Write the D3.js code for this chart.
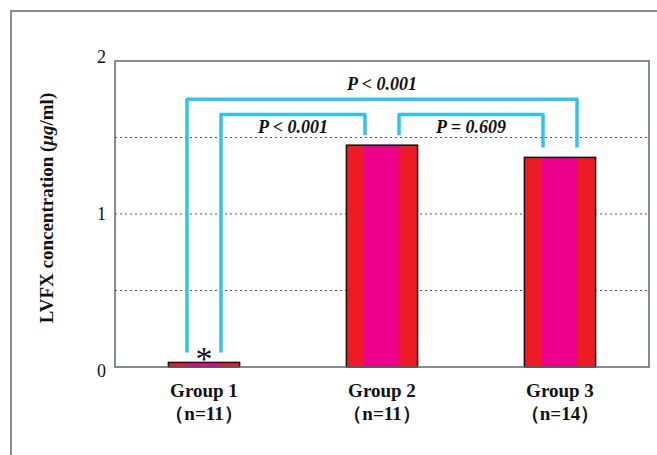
<!DOCTYPE html>
<html>
<head>
<meta charset="utf-8">
<script src="https://cdn.jsdelivr.net/npm/d3@7"></script>
<style>
  html, body { margin: 0; padding: 0; background: #fff; }
  svg { display: block; }
  text { font-family: "Liberation Serif", "Times New Roman", serif; fill: #111; }
</style>
</head>
<body>
<svg id="chart" width="657" height="455"></svg>
<script>
// Mean LVFX concentration per group
const groups = ["Group 1", "Group 2", "Group 3"];
const groupN = ["n=11", "n=11", "n=14"];
const means = [0.03, 1.45, 1.37];
const yTicks = [0, 1, 2];
const gridValues = [0.5, 1, 1.5];

// Pairwise comparisons: bar indices, bracket height (µg/ml), label
const compFrom = [1, 0, 0];
const compTo = [2, 1, 2];
const compLevel = [1.65, 1.65, 1.75];
const compLabel = ["P = 0.609", "P < 0.001", "P < 0.001"];

(function draw() {
  const svg = d3.select("#chart");
  const mLeft = 115, mRight = 649, mTop = 61, mBottom = 367;

  const x = d3.scaleBand().domain(groups).range([mLeft, mRight])
    .paddingInner(0.6).paddingOuter(0.3);
  const y = d3.scaleLinear().domain([0, 2]).range([mBottom, mTop]);

  // Outer figure frame
  svg.append("rect")
    .attr("x", 11).attr("y", 11).attr("width", 700).attr("height", 500)
    .attr("fill", "none").attr("stroke", "#666").attr("stroke-width", 1.5);

  // Striped bar fill
  const grad = svg.append("defs").append("linearGradient").attr("id", "barFill")
    .attr("x1", "0%").attr("x2", "100%").attr("y1", "0%").attr("y2", "0%");
  [["0%", "#ed1c24"], ["25%", "#ed1c24"], ["25%", "#ec008c"], ["75%", "#ec008c"],
   ["75%", "#ed1c24"], ["100%", "#ed1c24"]].forEach(([o, c]) =>
    grad.append("stop").attr("offset", o).attr("stop-color", c));

  // Dotted gridlines
  svg.append("g").selectAll("line").data(gridValues).join("line")
    .attr("x1", mLeft).attr("x2", mRight)
    .attr("y1", d => y(d)).attr("y2", d => y(d))
    .attr("stroke", "#555").attr("stroke-width", 1)
    .attr("stroke-dasharray", "2,3");

  // Bars
  svg.append("g").selectAll("rect").data(means).join("rect")
    .attr("x", (d, i) => x(groups[i]))
    .attr("y", d => y(d))
    .attr("width", x.bandwidth())
    .attr("height", d => y(0) - y(d))
    .attr("fill", "url(#barFill)")
    .attr("stroke", "#111").attr("stroke-width", 1.5);

  // Plot frame
  svg.append("rect")
    .attr("x", mLeft).attr("y", mTop).attr("width", mRight - mLeft).attr("height", mBottom - mTop)
    .attr("fill", "none").attr("stroke", "#5d6870").attr("stroke-width", 1.5);

  // Y axis tick labels
  const yAxis = svg.append("g").attr("transform", `translate(${mLeft},0)`)
    .call(d3.axisLeft(y).tickValues(yTicks).tickSize(0).tickPadding(9).tickFormat(d3.format("d")));
  yAxis.select(".domain").remove();
  yAxis.selectAll("text")
    .attr("font-family", "Liberation Serif, Times New Roman, serif")
    .attr("font-size", 18).attr("fill", "#111")
    .attr("dy", d => (d === 2 ? "0.1em" : d === 0 ? "0.55em" : "0.32em"));

  // Y axis title
  const yTitle = svg.append("text")
    .attr("transform", "translate(53,208) rotate(-90)")
    .attr("text-anchor", "middle")
    .attr("font-size", 19).attr("font-weight", "bold");
  yTitle.append("tspan").text("LVFX concentration (");
  yTitle.append("tspan").attr("font-style", "italic").text("μg");
  yTitle.append("tspan").text("/ml)");

  // Group labels
  const cx = g => x(g) + x.bandwidth() / 2;
  const xl = svg.append("g").selectAll("g").data(groups).join("g");
  xl.append("text")
    .attr("x", d => cx(d)).attr("y", 397)
    .attr("text-anchor", "middle").attr("font-size", 19).attr("font-weight", "bold")
    .text(d => d);
  xl.append("text")
    .attr("x", d => cx(d)).attr("y", 420)
    .attr("text-anchor", "middle").attr("font-size", 19).attr("font-weight", "bold")
    .text((d, i) => "（" + groupN[i] + "）");

  // Significance brackets: the widest bracket sits outside the inner ones
  const legOffset = 17;
  const legGap = 0.065;
  const topLevel = d3.max(compLevel);
  const br = svg.append("g");
  compFrom.forEach((a, k) => {
    const b = compTo[k];
    const outer = compLevel[k] === topLevel;
    const xa = cx(groups[a]) + (outer ? -1 : 1) * legOffset;
    const xb = cx(groups[b]) + (outer ? 1 : -1) * legOffset;
    const yl = y(compLevel[k]);
    const ya = y(means[a] + legGap);
    const yb = y(means[b] + legGap);
    br.append("path")
      .attr("d", `M${xa},${ya} V${yl} H${xb} V${yb}`)
      .attr("fill", "none").attr("stroke", "#2ec4f1").attr("stroke-width", 3.5)
      .attr("stroke-linejoin", "round");
    br.append("text")
      .attr("x", (xa + xb) / 2)
      .attr("y", outer ? yl - 9 : yl + 18)
      .attr("text-anchor", "middle")
      .attr("font-size", 18).attr("font-weight", "bold").attr("font-style", "italic")
      .text(compLabel[k]);
  });

  // Asterisk over Group 1
  svg.append("text")
    .attr("x", cx(groups[0])).attr("y", y(means[0]) + 8)
    .attr("text-anchor", "middle").attr("font-size", 34)
    .text("*");
})();
</script>
</body>
</html>
